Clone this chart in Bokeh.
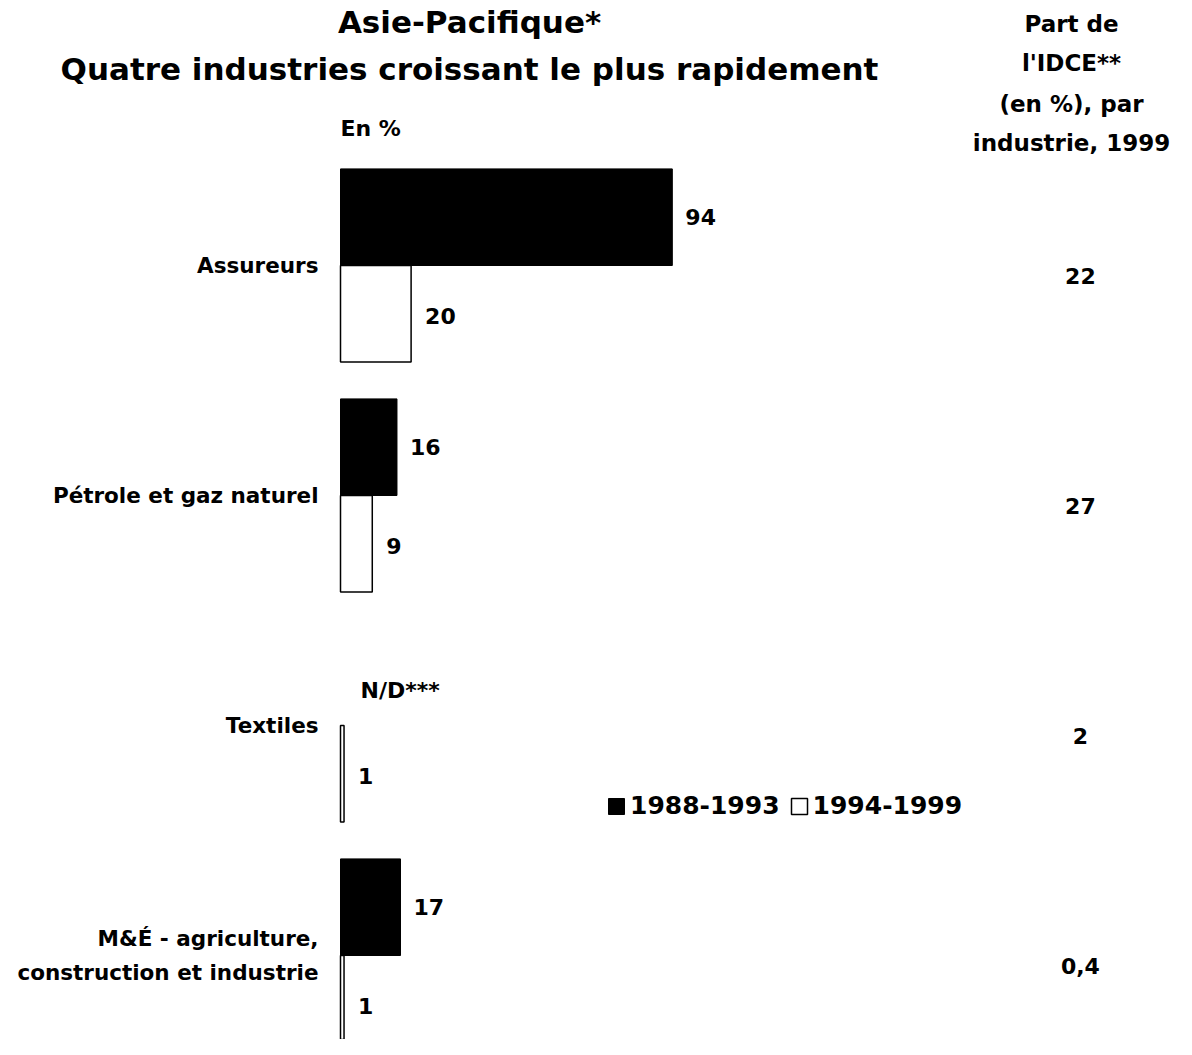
from bokeh.plotting import figure
from bokeh.models import Range1d, Label, Legend, LegendItem, ColumnDataSource
from bokeh.core.properties import value
from bokeh.embed import file_html
from bokeh.resources import INLINE

# ---- data ----
categories = ["Assureurs", "Pétrole et gaz naturel", "Textiles",
              "M&É - agriculture,\nconstruction et industrie"]
series_names = ["1988-1993", "1994-1999"]
values_1988_1993 = [94, 16, None, 17]          # None = N/D
values_1994_1999 = [20, 9, 1, 1]
share_idce_1999 = ["22", "27", "2", "0,4"]
missing_label = "N/D***"

FONT_NAME = "DejaVu Sans"
FONT = value(FONT_NAME)
W, H = 1176, 1039

p = figure(width=W, height=H, output_backend="svg", toolbar_location=None,
           x_range=Range1d(-96.32, 236.83), y_range=Range1d(3.3652, -1.1522),
           min_border=0, min_border_left=0, min_border_right=0,
           min_border_top=0, min_border_bottom=0)
p.axis.visible = False
p.grid.visible = False
p.outline_line_color = None
p.background_fill_color = "white"
p.border_fill_color = "white"

idx = list(range(len(categories)))
bh = 0.42
black_y = [i - bh / 2 for i in idx]
white_y = [i + bh / 2 for i in idx]

src_b = ColumnDataSource(dict(
    y=black_y,
    right=[v if v is not None else 0 for v in values_1988_1993],
    lab=[str(v) if v is not None else missing_label for v in values_1988_1993],
    alpha=[1 if v is not None else 0 for v in values_1988_1993],
    yoff=[0 if v is not None else 13 for v in values_1988_1993],
    xoff=[13 if v is not None else 20 for v in values_1988_1993],
))
src_w = ColumnDataSource(dict(
    y=white_y,
    right=values_1994_1999,
    lab=[str(v) for v in values_1994_1999],
))

rb = p.hbar(y="y", left=0, right="right", height=bh, source=src_b,
            fill_color="black", line_color="black", fill_alpha="alpha", line_alpha="alpha")
rw = p.hbar(y="y", left=0, right="right", height=bh, source=src_w,
            fill_color="white", line_color="black", line_width=1.5)

# value labels
p.text(x="right", y="y", text="lab", source=src_b, x_offset="xoff", y_offset="yoff",
       text_font=FONT, text_font_style="bold", text_font_size="22px",
       text_baseline="middle", text_align="left", text_color="black")
p.text(x="right", y="y", text="lab", source=src_w, x_offset=14, y_offset=2,
       text_font=FONT, text_font_style="bold", text_font_size="22px",
       text_baseline="middle", text_align="left", text_color="black")

# category labels
src_c = ColumnDataSource(dict(x=[0] * len(categories), y=idx, t=categories))
p.text(x="x", y="y", text="t", source=src_c, x_offset=-22,
       text_font=FONT, text_font_style="bold", text_font_size="21.5px",
       text_baseline="middle", text_align="right", text_color="black",
       text_line_height=1.35)

# right column: share of IDCE
src_r = ColumnDataSource(dict(x=[209.6] * len(share_idce_1999), y=idx, t=share_idce_1999))
p.text(x="x", y="y", text="t", source=src_r, y_offset=10,
       text_font=FONT, text_font_style="bold", text_font_size="22px",
       text_baseline="middle", text_align="center", text_color="black")

def lab(text, x, y, size, align="center"):
    # x, y given in canvas pixels from top-left
    p.add_layout(Label(x=x, y=H - y, x_units="screen", y_units="screen", text=text,
                       text_font=FONT_NAME, text_font_style="bold", text_font_size=size,
                       text_align=align, text_baseline="middle", text_color="black"))

lab("Asie-Pacifique*", 469, 21, "31px")
lab("Quatre industries croissant le plus rapidement", 469, 68, "31px")
lab("En %", 340, 128, "22px", align="left")
for t, yy in zip(["Part de", "l'IDCE**", "(en %), par", "industrie, 1999"], [23, 62, 103, 142]):
    lab(t, 1071, yy, "23px")

legend = Legend(items=[LegendItem(label=series_names[0], renderers=[rb]),
                       LegendItem(label=series_names[1], renderers=[rw])],
                orientation="horizontal", location=(606, H - 820),
                glyph_width=20, glyph_height=20, label_standoff=4, spacing=9,
                padding=0, margin=0, border_line_alpha=0, background_fill_alpha=0,
                label_text_font=FONT_NAME, label_text_font_style="bold",
                label_text_color="black",
                label_text_font_size="25px", label_height=25)
p.add_layout(legend)

open("out.html", "w").write(file_html(p, INLINE))
